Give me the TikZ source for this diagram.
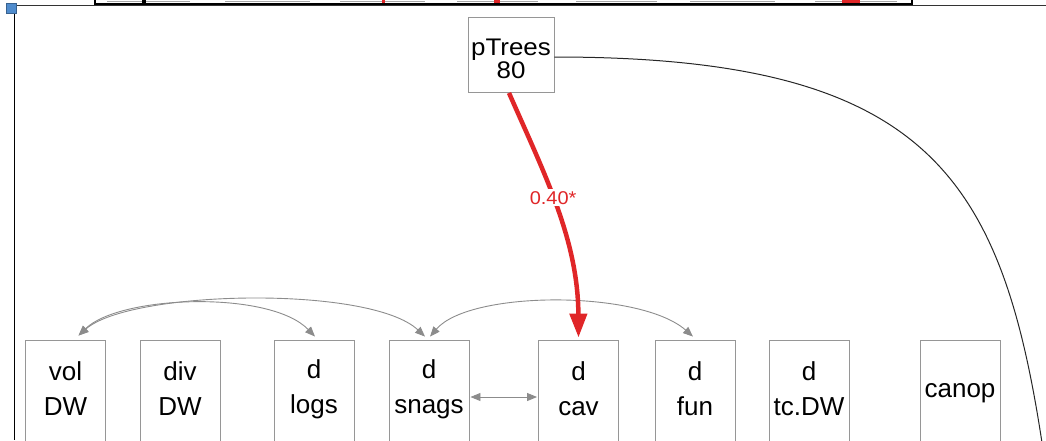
\documentclass[tikz,border=0pt]{standalone}
\usepackage{fontspec}
\setmainfont{Liberation Sans}
\usetikzlibrary{arrows.meta,calc}
\definecolor{redc}{RGB}{224,38,40}
\definecolor{boxgray}{RGB}{150,150,150}
\definecolor{arrgray}{RGB}{140,140,140}
\definecolor{bluesq}{RGB}{80,140,205}
\newcommand{\wt}[1]{\scalebox{1.08}[1]{#1}}
\begin{document}
\begin{tikzpicture}[x=1pt,y=-1pt,
  box/.style={draw=boxgray,line width=0.9pt,minimum width=80pt,minimum height=130pt,inner sep=0pt},
  topbox/.style={draw=boxgray,line width=0.9pt,minimum width=86pt,minimum height=75pt,inner sep=0pt},
  lbl/.style={align=center,font=\fontsize{26}{35}\selectfont,inner sep=0pt},
  toplbl/.style={align=center,font=\fontsize{24}{21}\selectfont,inner sep=0pt},
  garr/.style={draw=arrgray,line width=0.9pt,{Triangle[length=10pt,width=8pt]}-{Triangle[length=10pt,width=8pt]}},
  redarr/.style={draw=redc,line width=4.5pt,-{Triangle[length=24pt,width=17pt]}},
  blkline/.style={draw=black!85,line width=1pt},
  frag/.style={draw=gray!70,line width=1pt}]
\useasboundingbox (0,0) rectangle (1046,440);
\clip (0,0) rectangle (1046,440);

% top strip fragments
\draw[frag] (107,1) -- (190,1);
\draw[frag] (225,1) -- (310,1);
\draw[frag] (340,1) -- (425,1);
\draw[frag] (457,1) -- (538,1);
\draw[frag] (576,1) -- (657,1);
\draw[frag] (690,1) -- (775,1);
\draw[frag] (815,1) -- (897,1);
\fill[black] (142,0) rectangle (146,4);
\fill[redc] (382,0) rectangle (385,2.5);
\fill[redc] (494,0) rectangle (500,3);
\fill[redc] (842,0) rectangle (860,3);
\draw[line width=1.5pt] (95,0) -- (95,4) -- (912,4) -- (912,0);
\draw[line width=0.8pt,black!80] (15,5) -- (1046,5);
\draw[line width=1pt] (14,13) -- (14,440);
\filldraw[fill=bluesq,draw=bluesq!70!black,line width=0.6pt] (6,3) rectangle (16,13);

% nodes
\node[topbox] (ptrees) at (511,55) {};
\node[toplbl] (ptreest) at (511,59) {\wt{pTrees}\\\wt{80}};

\node[box] (vol) at (65.5,405) {};
\node[box] (div) at (180,405) {};
\node[box] (logs) at (314,405) {};
\node[box] (snags) at (429,405) {};
\node[box] (cav) at (578.5,405) {};
\node[box] (fun) at (695,405) {};
\node[box] (tc) at (809,405) {};
\node[box] (canop) at (960,405) {};

\node[lbl] (volt) at (65.5,389) {vol\\DW};
\node[lbl] (divt) at (180,389) {div\\DW};
\node[lbl] (logst) at (314,389) {d\\logs};
\node[lbl] (snagst) at (429,389) {d\\snags};
\node[lbl] (cavt) at (578.5,389) {d\\cav};
\node[lbl] (funt) at (695,389) {d\\fun};
\node[lbl] (tct) at (809,389) {d\\tc.DW};
\node[lbl] (canopt) at (960,393) {canop};

\coordinate (offb) at (1050,500);

% connectors
\draw[garr] ($(vol.north)+(13,-4)$) .. controls (120,295) and (270,290) .. ($(logs.north)+(1,-3)$);
\draw[garr] ($(vol.north)+(13,-4)$) .. controls (130,290) and (370,285) .. ($(snags.north)+(-4,-3)$);
\draw[garr] ($(snags.north)+(1,-3)$) .. controls (470,290) and (640,290) .. ($(fun.north)+(-2,-3)$);
\draw[garr] ($(snags.east)+(1,-8)$) -- ($(cav.west)+(-1,-8)$);

\draw[blkline] ($(ptrees.east)+(0,2)$) .. controls (950,57) and (1010,190) .. (offb);

\draw[redarr] ($(ptrees.south)+(-2,0)$) .. controls (545,175) and (578,240) .. ($(cav.north)+(0,-2)$)
  node[pos=0.45,fill=white,inner sep=2pt,text=redc,font=\fontsize{18.5}{20}\selectfont] (lab) {\scalebox{1.08}[1]{0.40*}};
\end{tikzpicture}
\end{document}
